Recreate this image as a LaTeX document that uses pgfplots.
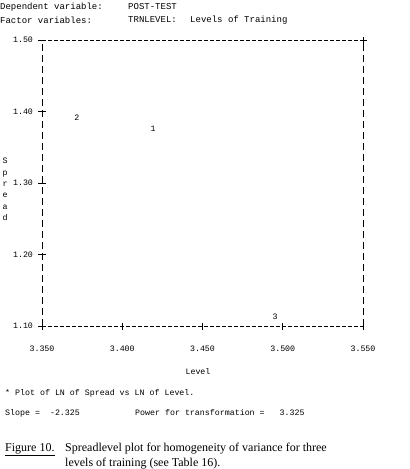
\documentclass[border=0pt]{standalone}
\usepackage{pgfplots}
\pgfplotsset{compat=1.18}
\usepackage{pgfplotstable}
\usepackage{fontspec}
\setmainfont{Liberation Mono}
\newfontfamily\capfont{Liberation Serif}
\pgfplotstableread{
x y label
3.4192 1.3755 1
3.3718 1.3910 2
3.4952 1.1126 3
}\spreaddata
\begin{document}
\begin{tikzpicture}
\path[use as bounding box] (0pt,0pt) rectangle (410pt,-469pt);
\begin{axis}[
  at={(42pt,-326pt)}, anchor=south west,
  scale only axis, width=321pt, height=286pt,
  xmin=3.35, xmax=3.55, ymin=1.1, ymax=1.5,
  axis x line=bottom, axis y line=left,
  x axis line style={-, dash pattern=on 4pt off 2pt, line width=0.9pt},
  y axis line style={-, dash pattern=on 7pt off 4pt, line width=0.9pt},
  xtick={3.35,3.40,3.45,3.50,3.55},
  ytick={1.1,1.2,1.3,1.4,1.5},
  tick align=center, major tick length=7pt,
  tick style={black, line width=0.9pt},
  /pgf/number format/assume math mode=true,
  xticklabel style={/pgf/number format/.cd, fixed, fixed zerofill, precision=3},
  yticklabel style={/pgf/number format/.cd, fixed, fixed zerofill, precision=2},
  ticklabel style={font=\fontsize{8.3}{9}\selectfont},
  xticklabel shift=13pt, yticklabel shift=2pt,
  clip=false,
]
\addplot[draw=none, mark=none, nodes near coords, point meta=explicit symbolic,
  nodes near coords align=center,
  every node near coord/.append style={font=\fontsize{8.3}{9}\selectfont, inner sep=0pt}]
  table[x=x, y=y, meta=label] {\spreaddata};
\draw[line width=0.9pt, dash pattern=on 4pt off 2pt] (rel axis cs:0,1) -- (rel axis cs:1,1);
\draw[line width=0.9pt, dash pattern=on 7pt off 4pt] (rel axis cs:1,0) -- (rel axis cs:1,1);
\draw[line width=0.9pt] ([xshift=-3.5pt]rel axis cs:1,1) -- ([xshift=3.5pt]rel axis cs:1,1)
  ([yshift=-3.5pt]rel axis cs:1,1) -- ([yshift=3.5pt]rel axis cs:1,1);
\end{axis}
\begin{scope}[every node/.style={inner sep=0pt, font=\fontsize{9}{10}\selectfont}]
\node[anchor=west] at (0pt,-7pt) {Dependent variable:};
\node[anchor=west] at (128pt,-7pt) {POST-TEST};
\node[anchor=west] at (0pt,-20pt) {Factor variables:};
\node[anchor=west] at (128pt,-20pt) {TRNLEVEL:};
\node[anchor=west] at (190pt,-20pt) {Levels of Training};
\end{scope}
\begin{scope}[every node/.style={inner sep=0pt, font=\fontsize{8.3}{9}\selectfont}]
\node[align=center, anchor=north, font=\fontsize{8.3}{11.4}\selectfont] at (5pt,-158pt) {S\\p\\r\\e\\a\\d};
\node at (198pt,-372pt) {Level};
\node[anchor=west] at (5pt,-393pt) {* Plot of LN of Spread vs LN of Level.};
\node[anchor=west] at (5pt,-413pt) {Slope =\ \ -2.325};
\node[anchor=west] at (135pt,-413pt) {Power for transformation =\ \ \ 3.325};
\end{scope}
\begin{scope}[every node/.style={inner sep=0pt, font=\capfont\fontsize{12}{14}\selectfont}]
\node[anchor=base west] at (5pt,-451pt) {\underline{Figure 10.}};
\node[anchor=base west] at (65pt,-451pt) {Spreadlevel plot for homogeneity of variance for three};
\node[anchor=base west] at (65pt,-466pt) {levels of training (see Table 16).};
\end{scope}
\end{tikzpicture}
\end{document}
